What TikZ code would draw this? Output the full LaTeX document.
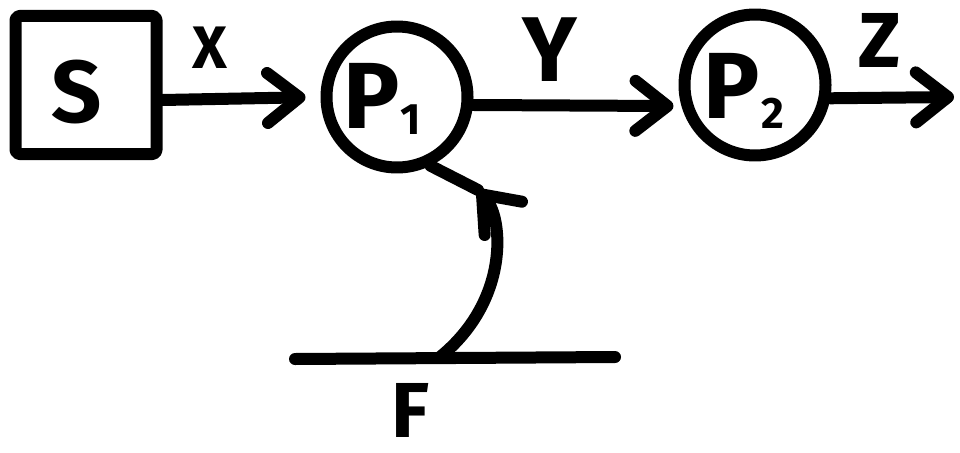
\documentclass[tikz,border=0pt]{standalone}
\usepackage{fontspec}
\setmainfont{Fira Sans}
\usetikzlibrary{arrows.meta,calc}
\begin{document}
\begin{tikzpicture}[x=1pt,y=-1pt,
  ink/.style={line width=12pt,line cap=round,line join=round},
  arr/.style={ink,-{Straight Barb[length=32pt,width=50pt,round]}},
  boxnode/.style={draw,ink,rounded corners=4pt,minimum width=141pt,minimum height=138pt,inner sep=0pt},
  circnode/.style={draw,ink,circle,minimum size=141pt,inner sep=0pt},
  lab/.style={font=\bfseries\fontsize{#1}{#1}\selectfont,inner sep=0pt},
  lab/.default=60pt]
\useasboundingbox (0,0) rectangle (960,452);
\node[boxnode] (S) at (86,85) {};
\node[circnode] (P1) at (397,97) {};
\node[circnode] (P2) at (755,85) {};
\node[lab=88pt] (St) at (77,92) {S};
\node[lab=94pt] (P1t) at (382,99) {P\kern1pt\fontsize{44pt}{44pt}\selectfont\raisebox{-6pt}{1}};
\node[lab=94pt] (P2t) at (744,91) {P\kern1pt\fontsize{44pt}{44pt}\selectfont\raisebox{-10pt}{2}};
\node[lab=60pt] (Xl) at (210,48) {X};
\node[lab=92pt] (Yl) at (550,50) {Y};
\node[lab=78pt] (Zl) at (880,40) {Z};
\node[lab=78pt] (Fl) at (410,410) {F};
\coordinate (Fa) at (295,359);
\coordinate (Fb) at (615,357);
\coordinate (Fm) at (440,357);
\coordinate (Fk) at (478,190);
\coordinate (Ze) at (954,97);
\draw[arr,shorten >=15pt] ($(S.east)+(0,15)$) -- (P1.west);
\draw[arr,shorten >=8pt] (P1.-6) -- (P2.196);
\draw[arr] (P2.-10) -- (Ze);
\draw[ink] (Fa) -- (Fb);
\draw[arr] (Fm) .. controls (510,300) and (503,218) .. (Fk);
\draw[ink] (Fk) -- (P1.-64);
\end{tikzpicture}
\end{document}
